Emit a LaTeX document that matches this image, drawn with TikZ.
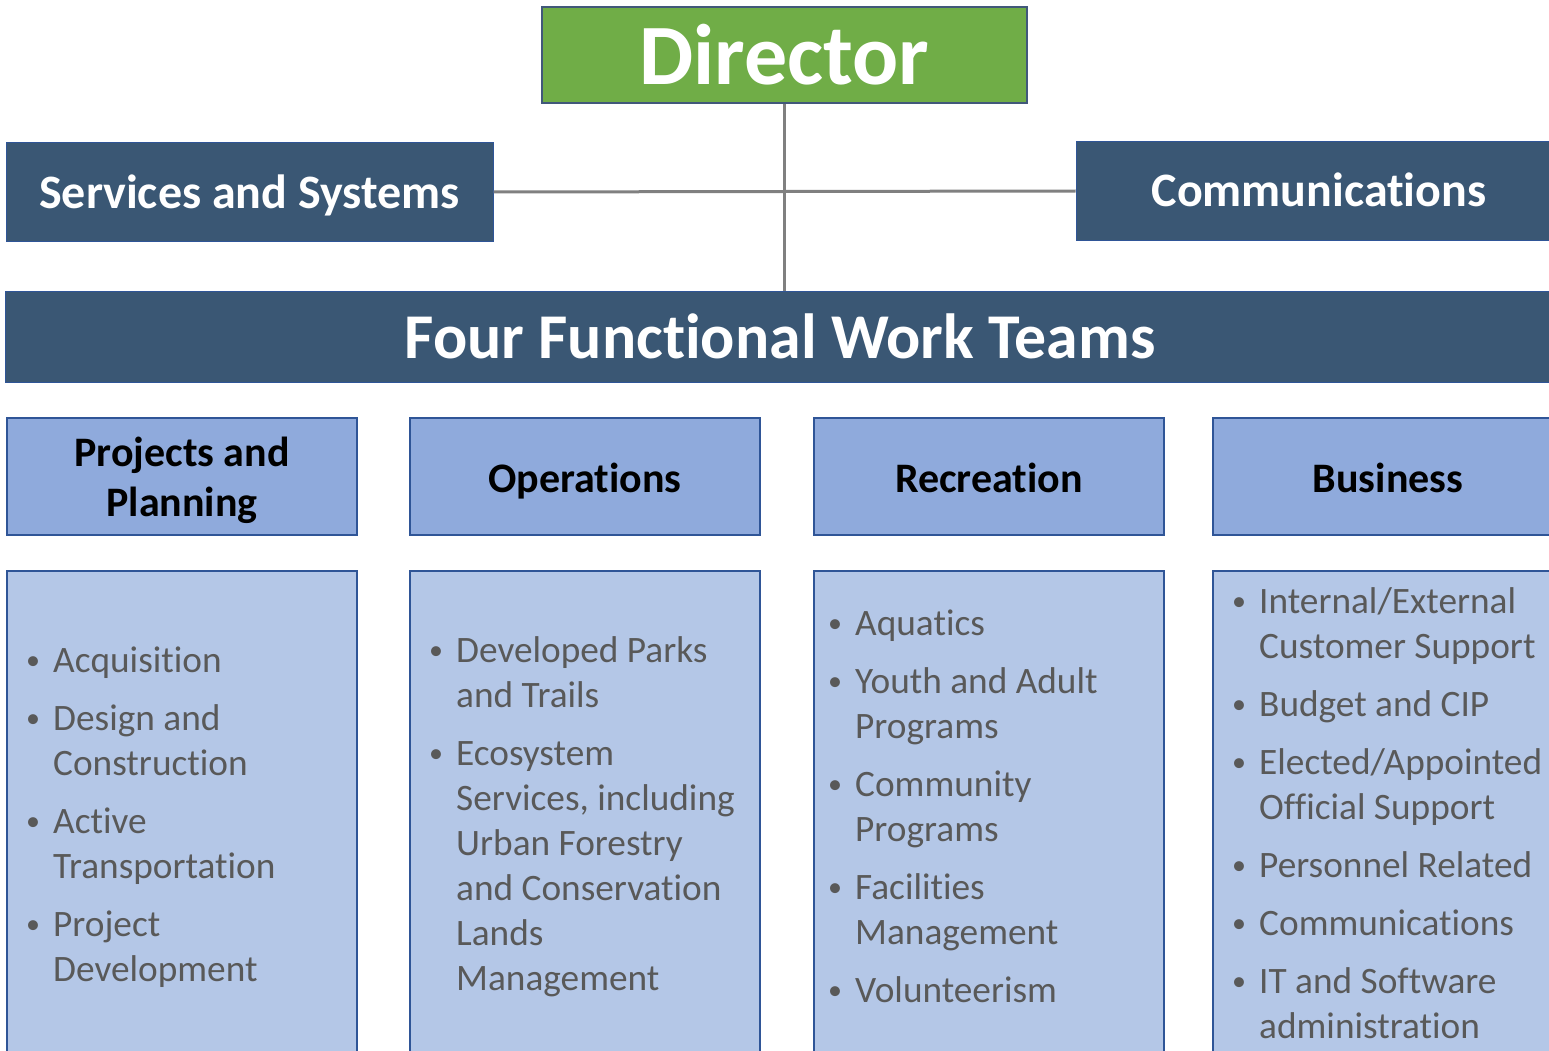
\documentclass[tikz,border=0pt]{standalone}
\usepackage{fontspec}
\setmainfont{Carlito}[Ligatures=NoCommon]
\usetikzlibrary{positioning}

\definecolor{dirgreen}{HTML}{70AD47}
\definecolor{diredge}{HTML}{41587A}
\definecolor{slate}{HTML}{3A5774}
\definecolor{slateedge}{HTML}{2F5597}
\definecolor{headfill}{HTML}{8FAADC}
\definecolor{listfill}{HTML}{B4C7E7}
\definecolor{listtext}{HTML}{595959}
\definecolor{linkgray}{HTML}{808080}

% bullet and hanging indent for the team lists
\newcommand{\bul}{\makebox[27pt][l]{\raisebox{2.5pt}{\fontsize{28}{28}\selectfont\textbullet}}}
\newcommand{\cont}{\hspace*{27pt}}

\begin{document}
\begin{tikzpicture}[x=1pt,y=-1pt,
  director/.style={draw=diredge,line width=2.5pt,fill=dirgreen,text=white,
    minimum width=485pt,minimum height=96pt,inner sep=0pt,
    font=\bfseries\fontsize{86}{90}\selectfont},
  darkbox/.style={draw=slateedge,line width=1pt,fill=slate,text=white,
    minimum height=98pt,inner sep=0pt,text height=36pt,text depth=4pt,
    font=\bfseries\fontsize{48}{56}\selectfont},
  teamhead/.style={draw=slateedge,line width=2pt,fill=headfill,text=black,
    minimum width=350pt,minimum height=117pt,inner sep=0pt,
    text height=36pt,text depth=5pt,
    font=\bfseries\fontsize{42}{50}\selectfont},
  teambody/.style={draw=slateedge,line width=2pt,fill=listfill,
    minimum width=350pt,minimum height=494pt,inner sep=0pt},
  teamlist/.style={anchor=base west,inner sep=0pt,text=listtext,
    font=\fontsize{37.3}{45}\selectfont},
  link/.style={draw=linkgray,line width=3pt}]

\useasboundingbox (0,0) rectangle (1549,1051);

% top of the chart
\node[director] (dir) at (784.5,55) {Director};
\node[darkbox,minimum width=487pt] (svc) at (249.5,192) {Services and Systems};
\node[darkbox,minimum width=486pt] (comm) at (1319,191) {Communications};
\node[darkbox,minimum width=1550pt,minimum height=91pt,text height=50pt,text depth=7pt,
  font=\bfseries\fontsize{63.8}{70}\selectfont] (teams) at (780,336.5) {Four Functional Work Teams};

% connectors
\draw[link] (dir.south) -- (dir.south |- teams.north);
\draw[link] (svc.east) -- (comm.west);

% team headers
\node[teamhead,text height=5pt,text depth=26pt] (plan) at (182,476.5)
  {\begin{tabular}[t]{@{}c@{}}Projects and\\Planning\end{tabular}};
\node[teamhead] (ops) at (585,476.5) {Operations};
\node[teamhead] (rec) at (989,476.5) {Recreation};
\node[teamhead] (bus) at (1388,476.5) {Business};

% team boxes
\node[teambody] (plan-box) at (182,818) {};
\node[teambody] (ops-box) at (585,818) {};
\node[teambody] (rec-box) at (989,818) {};
\node[teambody] (bus-box) at (1388,818) {};

% team lists
\node[teamlist] (plan-list) at (26,672) {\begin{tabular}[t]{@{}l@{}}
  \bul Acquisition\\[13pt]
  \bul Design and\\ \cont Construction\\[13pt]
  \bul Active\\ \cont Transportation\\[13pt]
  \bul Project\\ \cont Development
\end{tabular}};
\node[teamlist] (ops-list) at (429,662) {\begin{tabular}[t]{@{}l@{}}
  \bul Developed Parks\\ \cont and Trails\\[13pt]
  \bul Ecosystem\\ \cont Services, including\\ \cont Urban Forestry\\
  \cont and Conservation\\ \cont Lands\\ \cont Management
\end{tabular}};
\node[teamlist] (rec-list) at (828,635) {\begin{tabular}[t]{@{}l@{}}
  \bul Aquatics\\[13pt]
  \bul Youth and Adult\\ \cont Programs\\[13pt]
  \bul Community\\ \cont Programs\\[13pt]
  \bul Facilities\\ \cont Management\\[13pt]
  \bul Volunteerism
\end{tabular}};
\node[teamlist] (bus-list) at (1232,613) {\begin{tabular}[t]{@{}l@{}}
  \bul Internal/External\\ \cont Customer Support\\[13pt]
  \bul Budget and CIP\\[13pt]
  \bul Elected/Appointed\\ \cont Official Support\\[13pt]
  \bul Personnel Related\\[13pt]
  \bul Communications\\[13pt]
  \bul IT and Software\\ \cont administration
\end{tabular}};

\end{tikzpicture}
\end{document}
